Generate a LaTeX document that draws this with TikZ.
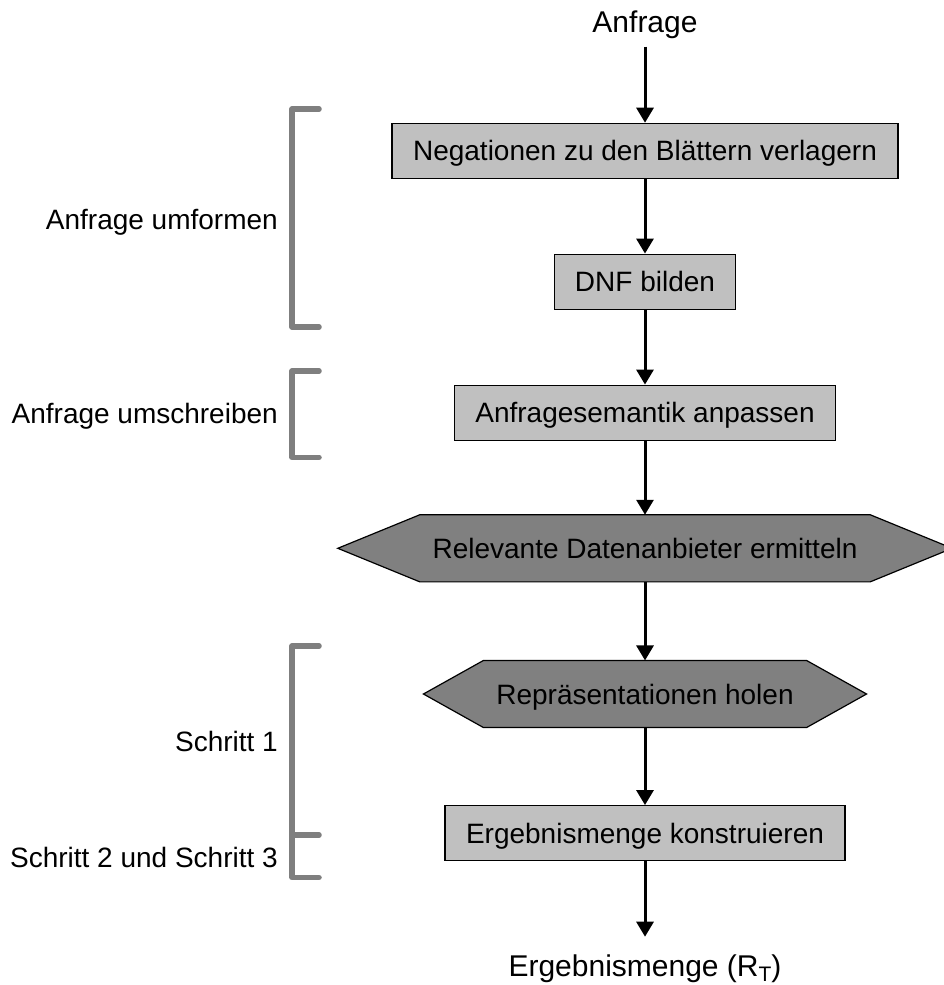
\documentclass[tikz,border=0pt]{standalone}
\usepackage{fontspec}
\setmainfont{Liberation Sans}
\usetikzlibrary{arrows.meta,calc}
\pgfdeclarelayer{background}
\pgfsetlayers{background,main}

\definecolor{boxgray}{HTML}{C0C0C0}
\definecolor{hexgray}{HTML}{808080}
\definecolor{bracketgray}{HTML}{7F7F7F}

\tikzset{
  flowfont/.style={font=\fontsize{28}{32}\selectfont},
  procbox/.style={flowfont, rectangle, draw=black, fill=boxgray, line width=1.2pt,
    inner sep=0pt, minimum height=55pt, text height=20pt, text depth=0pt},
  hexnode/.style={flowfont, rectangle, inner sep=0pt, minimum height=66.7pt,
    text height=20pt, text depth=0pt},
  hexshape/.style={draw=black, fill=hexgray, line width=1.2pt, line join=miter},
  flowarrow/.style={line width=3pt, -{Triangle[width=17pt,length=15pt]}},
  bracketline/.style={draw=bracketgray, line width=5.5pt, line cap=round, line join=round},
  sidelabel/.style={flowfont, anchor=base east, inner sep=0pt},
  endlabel/.style={font=\fontsize{30}{34}\selectfont, anchor=base, inner sep=0pt},
}

\begin{document}
\begin{tikzpicture}[x=1pt, y=-1pt]
  \useasboundingbox (0,0) rectangle (943,985);
  \clip (0,0) rectangle (943,985);

  % start and end of the flow
  \node[endlabel] (query) at (645,32.3) {Anfrage};
  \node[endlabel] (result) at (645,976.7) {Ergebnismenge (R\raisebox{-5pt}{\fontsize{21}{21}\selectfont T})};

  % processing steps
  \node[procbox, minimum width=506pt] (neg)  at (645,150.8) {Negationen zu den Blättern verlagern};
  \node[procbox, minimum width=181pt] (dnf)  at (645,281.7) {DNF bilden};
  \node[procbox, minimum width=381pt] (sem)  at (645,412.7) {Anfragesemantik anpassen};
  \node[hexnode, minimum width=450pt] (prov) at (645,548.3) {Relevante Datenanbieter ermitteln};
  \node[hexnode, minimum width=322.7pt] (rep) at (645,694) {Repräsentationen holen};
  \node[procbox, minimum width=400pt] (build) at (645,833.2) {Ergebnismenge konstruieren};

  % hexagon outlines behind the two data-source steps
  \begin{pgfonlayer}{background}
    \draw[hexshape] (prov.north west) -- (prov.north east) -- ($(prov.east)+(82,0)$)
      -- (prov.south east) -- (prov.south west) -- ($(prov.west)+(-82,0)$) -- cycle;
    \draw[hexshape] (rep.north west) -- (rep.north east) -- ($(rep.east)+(60,0)$)
      -- (rep.south east) -- (rep.south west) -- ($(rep.west)+(-60,0)$) -- cycle;
  \end{pgfonlayer}

  % connectors
  \coordinate (qstart) at (645,46.7);
  \coordinate (rend) at (645,936.7);
  \draw[flowarrow] (qstart) -- (neg.north);
  \draw[flowarrow] (neg.south) -- (dnf.north);
  \draw[flowarrow] (dnf.south) -- (sem.north);
  \draw[flowarrow] (sem.south) -- (prov.north);
  \draw[flowarrow] (prov.south) -- (rep.north);
  \draw[flowarrow] (rep.south) -- (build.north);
  \draw[flowarrow] (build.south) -- (rend);

  % phase brackets
  \draw[bracketline] (319,109) -- (292,109) -- (292,327) -- (319,327);
  \draw[bracketline] (319,371) -- (292,371) -- (292,457.3) -- (319,457.3);
  \draw[bracketline] (319,646) -- (292,646) -- (292,877.5) -- (319,877.5);
  \draw[bracketline] (292,835) -- (319,835);

  % phase labels
  \node[sidelabel] (lbl1) at (278,229.3) {Anfrage umformen};
  \node[sidelabel] (lbl2) at (278,423.3) {Anfrage umschreiben};
  \node[sidelabel] (lbl3) at (278,751.7) {Schritt 1};
  \node[sidelabel] (lbl4) at (278,867.3) {Schritt 2 und Schritt 3};
\end{tikzpicture}
\end{document}
